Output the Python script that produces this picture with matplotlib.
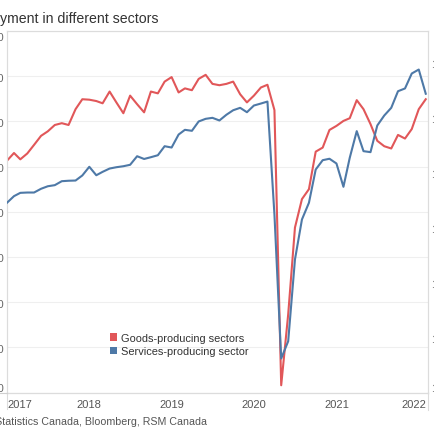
"""Employment in goods- vs services-producing sectors, dual axis, 2017-2022."""
import matplotlib
matplotlib.use("Agg")
import matplotlib.pyplot as plt
import matplotlib.transforms as mtransforms
import pandas as pd
from matplotlib.lines import Line2D
from matplotlib.patches import Patch

RED = "#E15759"
BLUE = "#4E79A7"
GRID = "#EFEFEF"
FRAME = "#DCDCDC"

plt.rcParams["font.family"] = ["Liberation Sans", "DejaVu Sans"]

# monthly employment, thousands
months = pd.date_range("2017-01-01", periods=62, freq="MS")
goods = [
    3813, 3830, 3816, 3829, 3848, 3868, 3878, 3892, 3896, 3892,
    3927, 3949, 3948, 3945, 3940, 3966, 3942, 3918, 3957, 3938,
    3920, 3966, 3962, 3988, 3998, 3964, 3973, 3969, 3994, 4003,
    3983, 3980, 3983, 3988, 3960, 3942, 3957, 3975, 3981, 3925,
    3316, 3473, 3665, 3728, 3750, 3833, 3842, 3881, 3890, 3901,
    3907, 3947, 3927, 3894, 3857, 3845, 3840, 3870, 3862, 3883,
    3927, 3949,
]
services = [
    14225, 14285, 14315, 14318, 14318, 14352, 14375, 14385, 14421, 14425,
    14427, 14473, 14552, 14475, 14506, 14536, 14548, 14557, 14570, 14648,
    14623, 14639, 14657, 14739, 14727, 14845, 14888, 14879, 14964, 14988,
    14997, 14973, 15025, 15066, 15088, 15048, 15109, 15127, 15145, 14118,
    12809, 12966, 13709, 14073, 14225, 14527, 14612, 14625, 14582, 14370,
    14634, 14876, 14694, 14685, 14927, 15018, 15088, 15239, 15264, 15400,
    15436, 15216,
]
years = ["2017", "2018", "2019", "2020", "2021", "2022"]
goods_ticks = list(range(3300, 4101, 100))
services_ticks = list(range(12500, 15501, 500))

W, H = 435, 435
fig = plt.figure(figsize=(W / 100, H / 100), dpi=100)
left, right, top, bottom = 7, 428, 32, 393.5
ax = fig.add_axes([left / W, 1 - bottom / H, (right - left) / W, (bottom - top) / H])
ax2 = ax.twinx()

ax.plot(months, goods, color=RED, lw=1.5, solid_joinstyle="round", zorder=3)
ax2.plot(months, services, color=BLUE, lw=1.5, solid_joinstyle="round", zorder=3)

ax.set_ylim(3300, 4100)
ax.set_yticks(goods_ticks)
ax.set_yticklabels([f"{v:,}" for v in goods_ticks])
ax2.set_ylim(12500, 12500 + (bottom - top) * 500 / 55)
ax2.set_yticks(services_ticks)
ax2.set_yticklabels([f"{v:,}" for v in services_ticks])

year_pos = pd.to_datetime([f"{y}-01-01" for y in years])
ax.set_xticks(year_pos)
ax.set_xticklabels(years)
ax.set_xlim(months[0], months[-1] + pd.Timedelta(days=10))

ax.grid(axis="y", color=GRID, lw=0.8, zorder=0)
ax.set_axisbelow(True)
for a in (ax, ax2):
    for side, sp in a.spines.items():
        sp.set_color(FRAME)
        sp.set_linewidth(0.8)
    a.tick_params(length=0)
ax.spines["bottom"].set_color("#D0D0D0")

ax.tick_params(axis="y", pad=2.2, labelsize=8, labelcolor="#666666")
ax2.tick_params(axis="y", pad=2.2, labelsize=8, labelcolor="#666666")
ax.tick_params(axis="x", pad=4.5, labelsize=8, labelcolor="#555555")

ylabs = ax.get_yticklabels()
ylabs[0].set_va("bottom")
ylabs[-1].set_va("top")
ax2.get_yticklabels()[0].set_va("bottom")
xlabs = ax.get_xticklabels()
xlabs[0].set_ha("left")
# last year label is pulled inside the panel edge
xlabs[-1].set_ha("right")
xlabs[-1].set_transform(xlabs[-1].get_transform()
                        + mtransforms.ScaledTranslation(8 / 100, 0, fig.dpi_scale_trans))

# panel borders running past the axis, as in the source tool
fig.add_artist(Line2D([left / W, left / W], [1 - 410 / H, 1 - bottom / H], color=FRAME, lw=0.8))
fig.add_artist(Line2D([right / W, right / W], [1 - 411 / H, 1 - bottom / H], color=FRAME, lw=0.8))
fig.add_artist(Line2D([0, left / W], [1 - bottom / H, 1 - bottom / H], color="#D0D0D0", lw=0.8))

handles = [
    Patch(facecolor=RED, label="Goods-producing sectors"),
    Patch(facecolor=BLUE, label="Services-producing sector"),
]
ax2.legend(handles=handles, loc="upper left",
           bbox_to_anchor=((110 - left) / (right - left), (bottom - 334) / (bottom - top)),
           frameon=False, fontsize=7.9, handlelength=0.68, handleheight=0.68, handletextpad=0.35,
           labelspacing=0.3, borderpad=0, borderaxespad=0, labelcolor="#333333")

fig.text(159 / W, 1 - 22.7 / H, "Employment in different sectors", ha="right", va="baseline",
         fontsize=10.2, color="#333333")
fig.text(207 / W, 1 - 425.5 / H, "Source: Statistics Canada, Bloomberg, RSM Canada", ha="right",
         va="baseline", fontsize=7.65, color="#555555")

fig.savefig("out.png", dpi=100)
